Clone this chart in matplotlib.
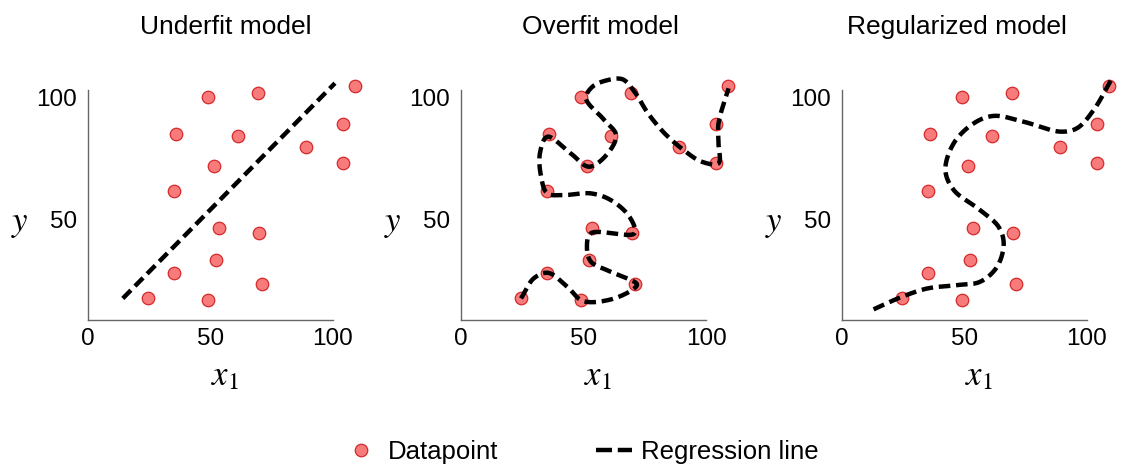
import numpy as np
import matplotlib.pyplot as plt
from matplotlib.lines import Line2D
from matplotlib.transforms import ScaledTranslation

plt.rcParams['font.family'] = ['Liberation Sans', 'DejaVu Sans']
plt.rcParams['mathtext.fontset'] = 'stix'

# data points (same in all three panels)
x_pts = [24.5, 49.1, 35.1, 52.1, 71.1, 53.5, 69.9, 35.1, 51.4, 35.8, 61.1, 49.1, 69.5, 89.0, 104.0, 104.0, 109.1]
y_pts = [13.9, 13.2, 24.5, 29.8, 19.8, 42.9, 41.0, 58.3, 68.6, 81.8, 81.0, 97.2, 98.6, 76.3, 86.0, 69.7, 101.7]

# underfit: straight line
under_x = [14.2, 100.8]
under_y = [13.9, 102.8]

# overfit: curve through every point
over_x = [24.5, 29.7, 35.5, 43.4, 49.6, 61.2, 70.8, 71.8, 61.2, 53.0, 51.4, 53.0, 70.8, 68.8, 61.2,
          53.0, 42.0, 35.2, 32.7, 32.2, 35.2, 44.8, 52.3, 59.9, 63.3, 58.5, 51.0, 53.7, 59.9, 66.0,
          70.8, 76.3, 83.1, 90.0, 98.2, 105.1, 105.1, 105.1, 109.2]
over_y = [13.9, 22.2, 24.5, 18.7, 12.9, 13.5, 18.1, 19.8, 24.9, 29.1, 35.3, 40.8, 40.8, 47.6, 54.5,
          57.3, 56.6, 57.3, 64.2, 73.8, 80.7, 73.8, 68.3, 73.8, 81.4, 87.6, 96.6, 101.4, 104.1, 104.4,
          99.3, 90.4, 82.1, 75.9, 70.4, 69.7, 78.0, 86.2, 100.7]

# regularized: smoother curve
reg_x = [12.9, 23.8, 34.7, 46.9, 56.4, 63.3, 66.0, 63.9, 56.4, 45.6, 42.2, 45.6, 53.7, 61.9, 74.1,
         89.1, 95.9, 102.7, 110.2]
reg_y = [9.4, 14.3, 18.0, 19.4, 20.8, 27.0, 36.6, 43.5, 50.4, 58.7, 66.9, 78.0, 86.2, 89.3, 86.9,
         82.8, 84.2, 91.7, 104.8]

titles = ['Underfit model', 'Overfit model', 'Regularized model']
title_x = [226, 600, 957]
xticks = [0, 50, 100]
yticks = [50, 100]

pt_face = '#F87B7B'
pt_edge = '#D42A2A'


def catmull_rom(xs, ys, n=24):
    p = np.column_stack([xs, ys]).astype(float)
    p = np.vstack([2 * p[0] - p[1], p, 2 * p[-1] - p[-2]])
    out = []
    for i in range(1, len(p) - 2):
        p0, p1, p2, p3 = p[i - 1], p[i], p[i + 1], p[i + 2]
        t0 = 0.0
        t1 = t0 + np.linalg.norm(p1 - p0) ** 0.5 + 1e-6
        t2 = t1 + np.linalg.norm(p2 - p1) ** 0.5 + 1e-6
        t3 = t2 + np.linalg.norm(p3 - p2) ** 0.5 + 1e-6
        t = np.linspace(t1, t2, n)[:, None]
        a1 = (t1 - t) / (t1 - t0) * p0 + (t - t0) / (t1 - t0) * p1
        a2 = (t2 - t) / (t2 - t1) * p1 + (t - t1) / (t2 - t1) * p2
        a3 = (t3 - t) / (t3 - t2) * p2 + (t - t2) / (t3 - t2) * p3
        b1 = (t2 - t) / (t2 - t0) * a1 + (t - t0) / (t2 - t0) * a2
        b2 = (t3 - t) / (t3 - t1) * a2 + (t - t1) / (t3 - t1) * a3
        c = (t2 - t) / (t2 - t1) * b1 + (t - t1) / (t2 - t1) * b2
        out.append(c if i == 1 else c[1:])
    out = np.vstack(out)
    return out[:, 0], out[:, 1]


curves = [
    (under_x, under_y),
    catmull_rom(over_x, over_y),
    catmull_rom(reg_x, reg_y),
]

fig = plt.figure(figsize=(11.25, 4.7), dpi=100)
lefts = [88, 461, 842]
down = ScaledTranslation(0, -8 / 100, fig.dpi_scale_trans)

for k in range(3):
    ax = fig.add_axes([lefts[k] / 1125, 150 / 470, 245 / 1125, 230 / 470])
    ax.plot(x_pts, y_pts, 'o', ms=9, mfc=pt_face, mec=pt_edge, mew=0.9, clip_on=False, zorder=3)
    lx, ly = curves[k]
    ax.plot(lx, ly, color='black', lw=3.2, dashes=(2.6, 1.3), solid_capstyle='butt',
            clip_on=False, zorder=4)
    ax.set_xlim(0, 100)
    ax.set_ylim(5, 100)
    ax.set_xticks(xticks)
    ax.set_yticks(yticks)
    ax.tick_params(length=0, labelsize=17.5, pad=6)
    ax.tick_params(axis='y', pad=8)
    for lab in ax.get_yticklabels():
        lab.set_transform(lab.get_transform() + down)
    for s in ['top', 'right']:
        ax.spines[s].set_visible(False)
    for s in ['left', 'bottom']:
        ax.spines[s].set_color('#666666')
        ax.spines[s].set_linewidth(1)
    ax.set_xlabel(r'$x_1$', fontsize=25)
    ax.xaxis.set_label_coords(0.56, -0.17)
    ax.set_ylabel(r'$y$', fontsize=25, rotation=0, ha='center', va='center')
    ax.yaxis.set_label_coords(-0.28, 0.42)
    fig.text(title_x[k] / 1125, 1 - 27 / 470, titles[k], fontsize=19, ha='center', va='center')

handles = [
    Line2D([], [], ls='none', marker='o', ms=9, mfc=pt_face, mec=pt_edge, mew=0.9),
    Line2D([], [], color='black', lw=3.2, dashes=(3.6, 1.3)),
]
fig.legend(handles, ['Datapoint', 'Regression line'], loc='center', ncol=2,
           bbox_to_anchor=(581 / 1125, 1 - 452 / 470), frameon=False, fontsize=18.5,
           handlelength=1.4, handletextpad=0.35, columnspacing=3.8)

fig.savefig('out.png', dpi=100)
